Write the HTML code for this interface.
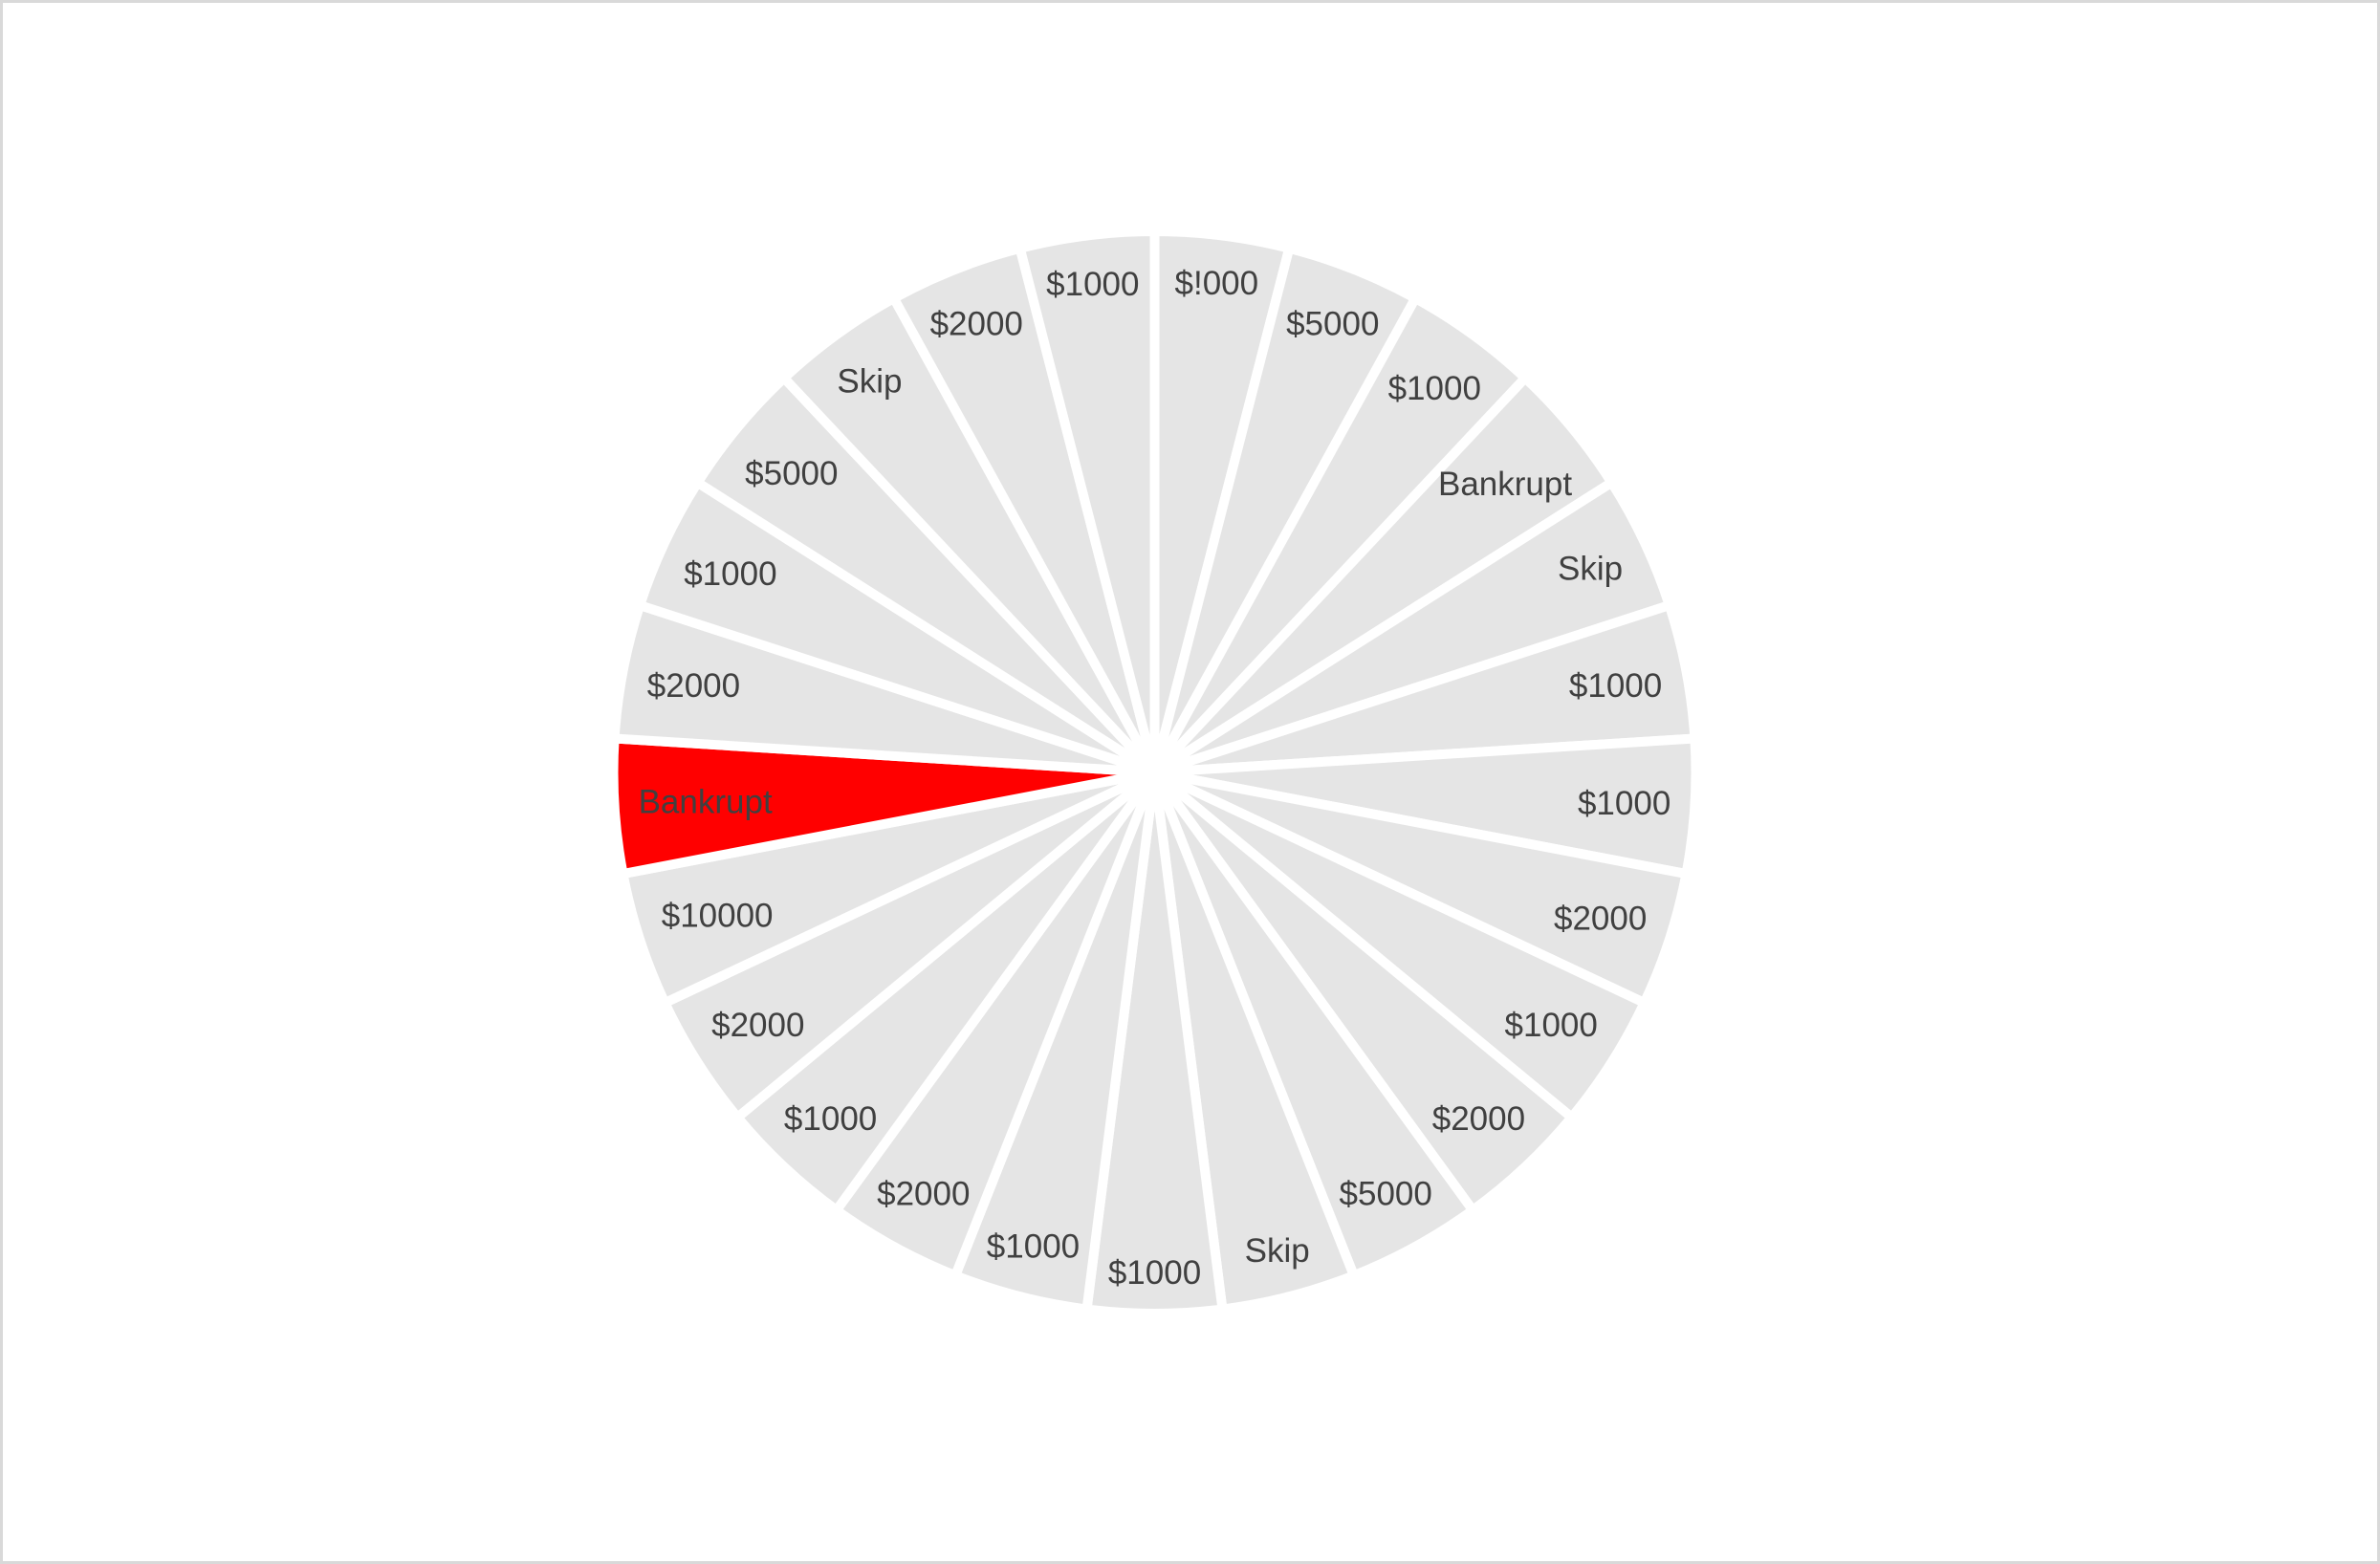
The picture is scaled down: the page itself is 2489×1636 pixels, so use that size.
<!DOCTYPE html>
<html><head><meta charset="utf-8"><style>
html,body{margin:0;padding:0;background:#fff;}
svg{display:block;}
text{font-family:"Liberation Sans",sans-serif;font-size:35px;fill:#404040;}
</style></head><body>
<svg id="chart" width="2489" height="1636" viewBox="0 0 2489 1636" xmlns="http://www.w3.org/2000/svg">
<rect x="1.5" y="1.5" width="2486" height="1633" fill="#fff" stroke="#d9d9d9" stroke-width="3"/>
<g id="slices"></g>
<g id="labels"></g>
</svg>
<script>
const categories = ["$!000","$5000","$1000","Bankrupt","Skip","$1000","$1000","$2000","$1000","$2000","$5000","Skip","$1000","$1000","$2000","$1000","$2000","$10000","Bankrupt","$2000","$1000","$5000","Skip","$2000","$1000"];
const values = [1,1,1,1,1,1,1,1,1,1,1,1,1,1,1,1,1,1,1,1,1,1,1,1,1];
const highlighted = [18];

const NS = "http://www.w3.org/2000/svg";
const cx = 1207.5, cy = 808, R = 566;
const total = values.reduce((a,b)=>a+b,0);
const pt = (ang, r) => [cx + r*Math.sin(ang), cy - r*Math.cos(ang)];
const sg = document.getElementById('slices');
const lg = document.getElementById('labels');
let acc = 0;
values.forEach((v,i)=>{
  const a0 = acc/total*2*Math.PI;
  acc += v;
  const a1 = acc/total*2*Math.PI;
  const p0 = pt(a0,R), p1 = pt(a1,R);
  const large = (a1-a0) > Math.PI ? 1 : 0;
  const path = document.createElementNS(NS,'path');
  path.setAttribute('d', `M${cx},${cy} L${p0[0]},${p0[1]} A${R},${R} 0 ${large} 1 ${p1[0]},${p1[1]} Z`);
  path.setAttribute('fill', highlighted.includes(i) ? '#ff0000' : '#e5e5e5');
  path.setAttribute('stroke', '#ffffff');
  path.setAttribute('stroke-width', '10');
  path.setAttribute('stroke-linejoin', 'round');
  
  
  sg.appendChild(path);

  const t = document.createElementNS(NS,'text');
  t.textContent = categories[i];
  t.setAttribute('text-anchor','middle');
  
  
  lg.appendChild(t);
  const w = t.getComputedTextLength(), h = 36;
  const am = (a0+a1)/2;
  const ux = Math.sin(am), uy = -Math.cos(am);
  const kx = Math.sign(ux)*w/2, ky = Math.sign(uy)*h/2;
  const target = R - 24;
  const b = ux*kx + uy*ky, c = kx*kx + ky*ky - target*target;
  const d = -b + Math.sqrt(b*b - c);
  const x = cx + d*ux, y = cy + d*uy;
  t.setAttribute('x', x);
  t.setAttribute('y', y + 13);
});
</script>
</body></html>
